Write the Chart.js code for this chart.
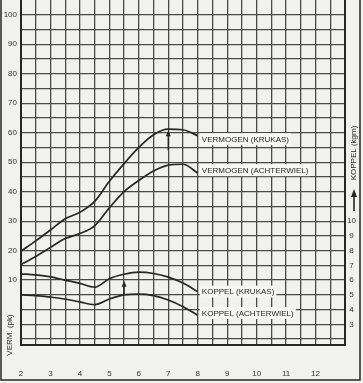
<!DOCTYPE html>
<html>
<head>
<meta charset="utf-8">
<script src="https://cdn.jsdelivr.net/npm/chart.js"></script>
<style>
    html, body { margin: 0; padding: 0; background: #f1f1ef; }
    canvas { display: block; }
</style>
</head>
<body>
<canvas id="koppelChart" width="363" height="383"></canvas>
<script>
// toerental x 1000 (omw/min)
const rpm = [2, 2.5, 3, 3.5, 4, 4.5, 5, 5.5, 6, 6.5, 7, 7.5, 8];
// vermogen in pk (linker as)
const vermogenKrukas = [19.8, 23.3, 27.0, 30.8, 33.0, 36.7, 43.5, 49.5, 55.0, 59.3, 61.2, 61.0, 59.0];
const vermogenAchterwiel = [15.3, 18.0, 21.1, 24.1, 25.8, 28.4, 34.5, 40.0, 43.8, 47.0, 49.0, 49.3, 46.3];
// koppel in kgm (rechter as)
const koppelKrukas = [6.43, 6.35, 6.22, 6.0, 5.78, 5.52, 6.1, 6.4, 6.54, 6.45, 6.2, 5.8, 5.22];
const koppelAchterwiel = [5.0, 4.95, 4.85, 4.72, 4.52, 4.34, 4.72, 5.0, 5.05, 4.95, 4.65, 4.2, 3.62];

const xTicks = [2, 3, 4, 5, 6, 7, 8, 9, 10, 11, 12];
const pkTicks = [10, 20, 30, 40, 50, 60, 70, 80, 90, 100];
const kgmTicks = [3, 4, 5, 6, 7, 8, 9, 10];

const INK = '#262626';
const GRID = '#4a4a4a';
const FONT = "'Liberation Sans', Arial, sans-serif";

function pts(values) {
    return values.map((v, i) => ({ x: rpm[i], y: v }));
}

function range(a, b, step) {
    const out = [];
    for (let v = a; v <= b + 1e-9; v += step) out.push({ value: Math.round(v * 100) / 100 });
    return out;
}

// fixed axis sizes, no extra label padding around the plot
function fixSize(prop, size) {
    return s => {
        s[prop] = size;
        s.paddingLeft = s.paddingRight = s.paddingTop = s.paddingBottom = 0;
    };
}

// curve labels and arrows, in data units
const curveLabels = [
    { text: 'VERMOGEN (KRUKAS)', x: 8.14, y: 57.8, axis: 'y' },
    { text: 'VERMOGEN (ACHTERWIEL)', x: 8.14, y: 47.3, axis: 'y' },
    { text: 'KOPPEL (KRUKAS)', x: 8.14, y: 5.22, axis: 'y2' },
    { text: 'KOPPEL (ACHTERWIEL)', x: 8.14, y: 3.77, axis: 'y2' }
];
const arrows = [
    { x: 7.0, from: 54.0, to: 60.8, axis: 'y' },
    { x: 5.5, from: 5.05, to: 5.95, axis: 'y2' }
];

const decorPlugin = {
    id: 'decor',
    afterDatasetsDraw(chart) {
        const ctx = chart.ctx;
        const xs = chart.scales.x;
        ctx.save();
        ctx.font = '8px ' + FONT;
        ctx.textBaseline = 'middle';
        curveLabels.forEach(l => {
            const px = xs.getPixelForValue(l.x);
            const py = chart.scales[l.axis].getPixelForValue(l.y);
            const w = ctx.measureText(l.text).width;
            ctx.fillStyle = '#f7f7f5';
            ctx.fillRect(px - 2, py - 6, w + 4, 12);
            ctx.fillStyle = INK;
            ctx.fillText(l.text, px, py + 0.5);
        });
        ctx.strokeStyle = INK;
        ctx.fillStyle = INK;
        ctx.lineWidth = 1.4;
        arrows.forEach(a => {
            const px = xs.getPixelForValue(a.x);
            const y1 = chart.scales[a.axis].getPixelForValue(a.from);
            const y2 = chart.scales[a.axis].getPixelForValue(a.to);
            ctx.beginPath();
            ctx.moveTo(px, y1);
            ctx.lineTo(px, y2 + 4);
            ctx.stroke();
            ctx.beginPath();
            ctx.moveTo(px, y2);
            ctx.lineTo(px - 2.5, y2 + 6);
            ctx.lineTo(px + 2.5, y2 + 6);
            ctx.closePath();
            ctx.fill();
        });
        ctx.restore();
    },
    afterDraw(chart) {
        const ctx = chart.ctx;
        ctx.save();
        ctx.fillStyle = INK;
        ctx.font = '8px ' + FONT;
        ctx.textAlign = 'center';
        ctx.textBaseline = 'middle';
        // axis titles
        ctx.translate(10, 335);
        ctx.rotate(-Math.PI / 2);
        ctx.fillText('VERM. (pk)', 0, 0);
        ctx.setTransform(1, 0, 0, 1, 0, 0);
        ctx.translate(354, 153);
        ctx.rotate(-Math.PI / 2);
        ctx.fillText('KOPPEL (kgm)', 0, 0);
        ctx.setTransform(1, 0, 0, 1, 0, 0);
        // arrow under right title
        ctx.strokeStyle = INK;
        ctx.lineWidth = 1.6;
        ctx.beginPath();
        ctx.moveTo(354, 211);
        ctx.lineTo(354, 195);
        ctx.stroke();
        ctx.beginPath();
        ctx.moveTo(354, 189);
        ctx.lineTo(351, 197);
        ctx.lineTo(357, 197);
        ctx.closePath();
        ctx.fill();
        // outer frame
        ctx.lineWidth = 1.5;
        ctx.beginPath();
        ctx.moveTo(1, 0);
        ctx.lineTo(1, 380);
        ctx.lineTo(360, 380);
        ctx.lineTo(360, 0);
        ctx.stroke();
        ctx.restore();
    }
};

const lineStyle = {
    borderColor: INK,
    borderWidth: 1.7,
    pointRadius: 0,
    fill: false,
    cubicInterpolationMode: 'monotone'
};

new Chart(document.getElementById('koppelChart'), {
    type: 'line',
    data: {
        datasets: [
            { label: 'VERMOGEN (KRUKAS)', data: pts(vermogenKrukas), yAxisID: 'y', ...lineStyle },
            { label: 'VERMOGEN (ACHTERWIEL)', data: pts(vermogenAchterwiel), yAxisID: 'y', ...lineStyle },
            { label: 'KOPPEL (KRUKAS)', data: pts(koppelKrukas), yAxisID: 'y2', ...lineStyle },
            { label: 'KOPPEL (ACHTERWIEL)', data: pts(koppelAchterwiel), yAxisID: 'y2', ...lineStyle }
        ]
    },
    options: {
        responsive: false,
        animation: false,
        layout: { padding: 0 },
        plugins: {
            legend: { display: false },
            tooltip: { enabled: false }
        },
        scales: {
            x: {
                type: 'linear',
                min: 2,
                max: 13,
                afterBuildTicks: s => { s.ticks = range(2, 13, 0.5); },
                afterFit: fixSize('height', 38),
                grid: {
                    color: GRID,
                    lineWidth: c => (c.tick && c.tick.value === 13 ? 2 : 1.3),
                    drawTicks: false
                },
                border: { display: true, color: INK, width: 2 },
                ticks: {
                    autoSkip: false,
                    maxRotation: 0,
                    padding: 24,
                    color: '#333',
                    font: { size: 8, family: FONT },
                    callback: v => (xTicks.includes(v) ? String(v) : '')
                }
            },
            y: {
                position: 'left',
                min: -12,
                max: 105,
                afterBuildTicks: s => { s.ticks = range(-10, 100, 5); },
                afterFit: fixSize('width', 21),
                grid: { color: GRID, lineWidth: 1.3, drawTicks: false },
                border: { display: true, color: INK, width: 2 },
                ticks: {
                    autoSkip: false,
                    padding: 4,
                    color: '#333',
                    font: { size: 8, family: FONT },
                    callback: v => (pkTicks.includes(v) ? String(v) : '')
                }
            },
            y2: {
                position: 'right',
                min: 1.6,
                max: 25,
                afterBuildTicks: s => { s.ticks = kgmTicks.map(v => ({ value: v })); },
                afterFit: fixSize('width', 18),
                grid: { display: false, drawTicks: false },
                border: { display: true, color: INK, width: 2 },
                ticks: {
                    autoSkip: false,
                    padding: 2,
                    crossAlign: 'center',
                    color: '#333',
                    font: { size: 8, family: FONT },
                    callback: v => String(v)
                }
            }
        }
    },
    plugins: [decorPlugin]
});
</script>
</body>
</html>
